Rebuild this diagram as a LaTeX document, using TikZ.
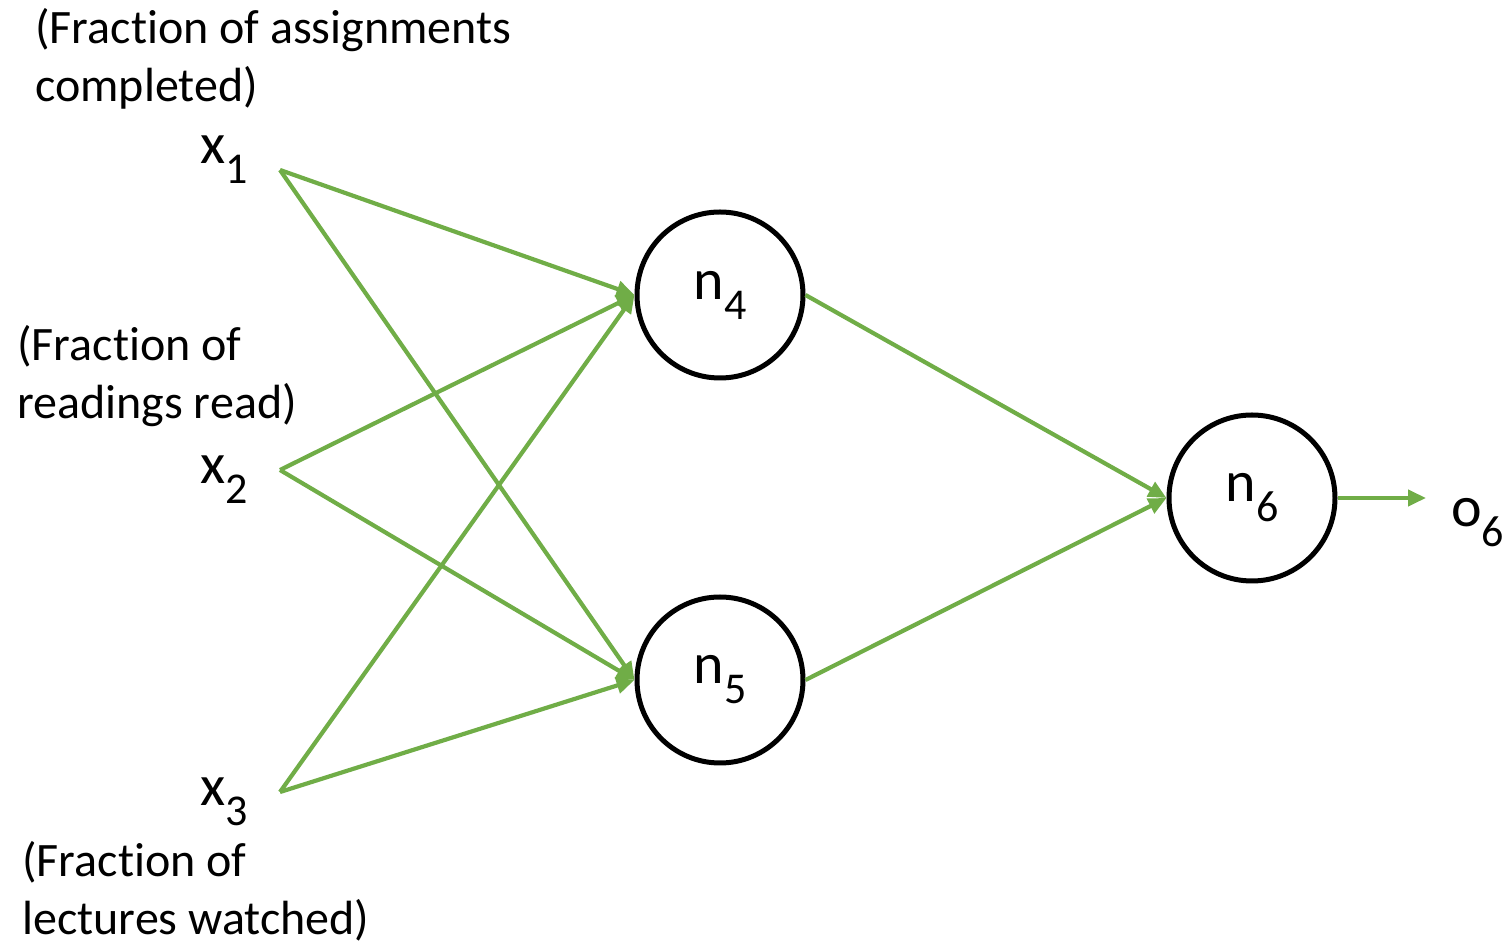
\documentclass[tikz,border=0pt]{standalone}
\usepackage{fontspec}
\setmainfont{Carlito}[Ligatures=NoCommon]
\usetikzlibrary{arrows.meta}
\definecolor{edgegreen}{RGB}{112,173,71}
\newcommand{\lsub}[1]{\raisebox{-10pt}{\fontsize{22}{22}\selectfont #1}}
\begin{document}
\begin{tikzpicture}[x=0.5pt,y=-0.5pt,
  neuron/.style={circle,draw=black,line width=2.5pt,minimum size=83pt,inner sep=0pt,
    font=\fontsize{29}{29}\selectfont},
  varlabel/.style={inner sep=0pt,anchor=base west,font=\fontsize{29}{29}\selectfont},
  desc/.style={inner sep=0pt,anchor=west,align=left,font=\fontsize{24}{29}\selectfont},
  conn/.style={draw=edgegreen,line width=2.1pt,-{Triangle[length=9pt,width=8pt]}}]
\useasboundingbox (0,0) rectangle (1506,945);

% neurons
\node[neuron] (n4) at (720,295) {\raisebox{-2pt}{n\lsub{4}}};
\node[neuron] (n5) at (720,680) {\raisebox{-2pt}{n\lsub{5}}};
\node[neuron] (n6) at (1252,498) {\raisebox{-2pt}{n\lsub{6}}};

% input points
\coordinate (i1) at (280,170);
\coordinate (i2) at (280,470);
\coordinate (i3) at (280,792);
\coordinate (out) at (1426,498);

% labels
\node[varlabel] (x1) at (200,164) {x\lsub{1}};
\node[varlabel] (x2) at (200,484) {x\lsub{2}};
\node[varlabel] (x3) at (200,806) {x\lsub{3}};
\node[varlabel] (o6) at (1451,527) {o\lsub{6}};

\node[desc] (d1) at (35,59) {(Fraction of assignments\\completed)};
\node[desc] (d2) at (17,376) {(Fraction of\\readings read)};
\node[desc] (d3) at (22,891) {(Fraction of\\lectures watched)};

% connectors
\draw[conn] (i1) -- (n4.west);
\draw[conn] (i1) -- (n5.west);
\draw[conn] (i2) -- (n4.west);
\draw[conn] (i2) -- (n5.west);
\draw[conn] (i3) -- (n4.west);
\draw[conn] (i3) -- (n5.west);
\draw[conn] (n4.east) -- (n6.west);
\draw[conn] (n5.east) -- (n6.west);
\draw[conn] (n6.east) -- (out);
\end{tikzpicture}
\end{document}
